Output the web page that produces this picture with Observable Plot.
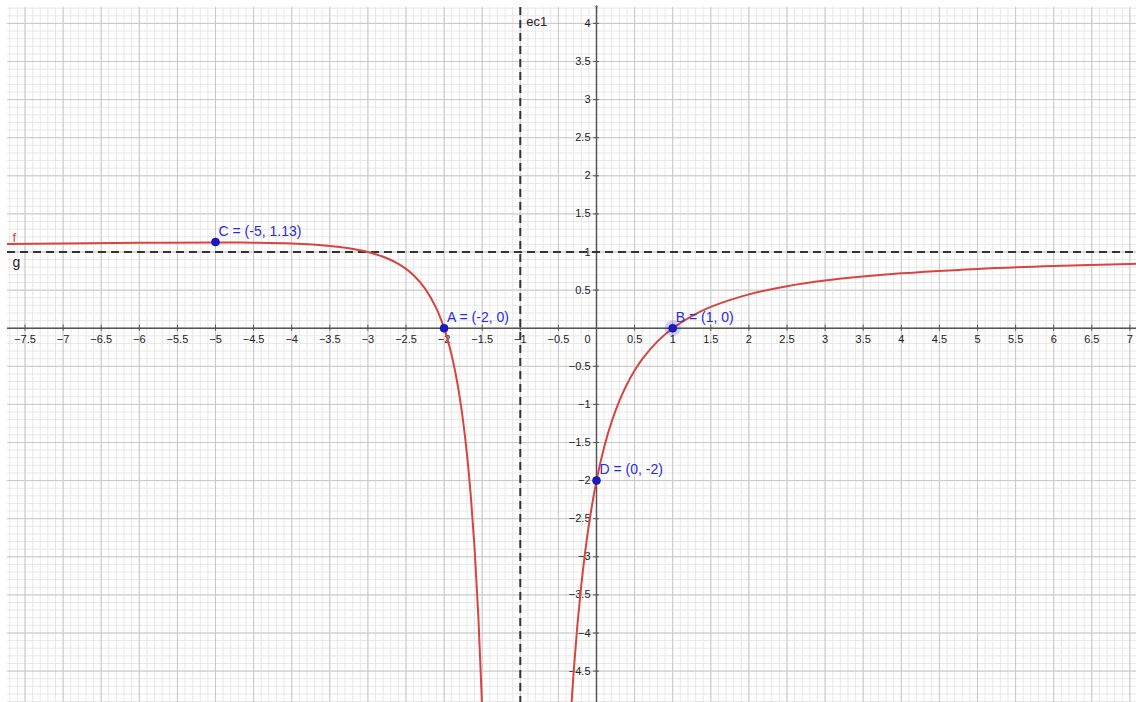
<!DOCTYPE html>
<html>
<head>
<meta charset="utf-8">
<script src="https://cdn.jsdelivr.net/npm/d3@7"></script>
<script src="https://cdn.jsdelivr.net/npm/@observablehq/plot@0.6"></script>
<style>
  html, body { margin: 0; padding: 0; background: #fff; }
  #chart svg { display: block; }
</style>
</head>
<body>
<div id="chart"></div>
<script>
// Tick labels
const xTicks = [-7.5,-7,-6.5,-6,-5.5,-5,-4.5,-4,-3.5,-3,-2.5,-2,-1.5,-1,-0.5,0.5,1,1.5,2,2.5,3,3.5,4,4.5,5,5.5,6,6.5,7];
const yTicks = [-4.5,-4,-3.5,-3,-2.5,-2,-1.5,-1,-0.5,0.5,1,1.5,2,2.5,3,3.5,4];

// Curve f, left branch
const leftX = [-8,-7,-6,-5,-4.5,-4,-3.5,-3.25,-3,-2.75,-2.6,-2.5,-2.4,-2.25,-2.1,-2,-1.95,-1.9,-1.85,-1.8,-1.75,-1.7,-1.65,-1.6,-1.55,-1.5,-1.45];
const leftY = [1.102,1.111,1.12,1.125,1.122,1.111,1.08,1.049,1,0.918,0.844,0.778,0.694,0.52,0.256,0,-0.163,-0.358,-0.592,-0.875,-1.222,-1.653,-2.195,-2.889,-3.793,-5,-6.654];
// Curve f, right branch
const rightX = [-0.35,-0.3,-0.25,-0.2,-0.15,-0.1,0,0.1,0.2,0.3,0.4,0.5,0.6,0.8,1,1.25,1.5,2,2.5,3,4,5,6,7,7.5];
const rightY = [-5.272,-4.51,-3.889,-3.375,-2.945,-2.58,-2,-1.562,-1.222,-0.953,-0.735,-0.556,-0.406,-0.173,0,0.16,0.28,0.444,0.551,0.625,0.72,0.778,0.816,0.844,0.855];

// Named points
const ptNames = ["C","A","B","D"];
const ptX = [-5,-2,1,0];
const ptY = [1.13,0,0,-2];

// Asymptotes
const vAsym = [-1];   // ec1
const hAsym = [1];    // g

const W = 1136, H = 702, M = 7;
const unit = 76.2, ox = 596, oy = 327.7;
const xDomain = [(M-ox)/unit, (W-ox)/unit];
const yDomain = [-(H-oy)/unit, (oy-M)/unit];

const fmt = v => (v < 0 ? "\u2212" : "") + Math.abs(v);

const minorX = d3.range(Math.ceil(xDomain[0]*10), Math.floor(xDomain[1]*10)+1).map(v => v/10);
const minorY = d3.range(Math.ceil(yDomain[0]*10), Math.floor(yDomain[1]*10)+1).map(v => v/10);
const majorX = minorX.filter(v => Math.abs(Math.round(v*2) - v*2) < 1e-9);
const majorY = minorY.filter(v => Math.abs(Math.round(v*2) - v*2) < 1e-9);

const left = leftX.map((x,i) => ({x, y: leftY[i]}));
const right = rightX.map((x,i) => ({x, y: rightY[i]}));
const pts = ptNames.map((n,i) => ({n, x: ptX[i], y: ptY[i], label: `${n} = (${ptX[i]}, ${ptY[i]})`}));

const blue = "#1a1acc";
const red = "#d64541";
const axisCol = "#555";
const tk = 3/unit;

const chart = Plot.plot({
  width: W, height: H,
  marginTop: M, marginRight: 0, marginBottom: 0, marginLeft: M,
  x: {type: "linear", domain: xDomain, axis: null},
  y: {type: "linear", domain: yDomain, axis: null},
  style: {background: "#fff", fontFamily: "Liberation Sans, Arial, sans-serif"},
  marks: [
    Plot.ruleX(minorX, {x: d => d, stroke: "#e8e8e8", strokeWidth: 1}),
    Plot.ruleY(minorY, {y: d => d, stroke: "#e8e8e8", strokeWidth: 1}),
    Plot.ruleX(majorX, {x: d => d, stroke: "#c8c8c8", strokeWidth: 1}),
    Plot.ruleY(majorY, {y: d => d, stroke: "#c8c8c8", strokeWidth: 1}),
    // axes
    Plot.ruleY([0], {y: d => d, stroke: axisCol, strokeWidth: 1.5}),
    Plot.ruleX([0], {x: d => d, stroke: axisCol, strokeWidth: 1.5}),
    Plot.ruleX(xTicks, {x: d => d, y1: -tk, y2: tk, stroke: axisCol, strokeWidth: 1}),
    Plot.ruleY(yTicks, {y: d => d, x1: -tk, x2: tk, stroke: axisCol, strokeWidth: 1}),
    Plot.text(xTicks, {x: d => d, y: () => 0, text: d => fmt(d), dy: 11, fontSize: 11, fill: "#222"}),
    Plot.text(yTicks, {x: () => 0, y: d => d, text: d => fmt(d), dx: -6, textAnchor: "end", fontSize: 11, fill: "#222"}),
    Plot.text([0], {x: d => d, y: d => d, text: () => "0", dx: -9, dy: 11, fontSize: 11, fill: "#222"}),
    // axis arrow
    Plot.text([0], {x: d => d, y: () => yDomain[1], text: () => "\u2191", dy: 1, fontSize: 14, fill: axisCol}),
    // asymptotes
    Plot.ruleX(vAsym, {x: d => d, stroke: "#333", strokeWidth: 2, strokeDasharray: "8,5"}),
    Plot.ruleY(hAsym, {y: d => d, stroke: "#333", strokeWidth: 2, strokeDasharray: "8,5"}),
    Plot.text(vAsym, {x: d => d, y: () => yDomain[1], text: () => "ec1", dx: 6, dy: 14, textAnchor: "start", fontSize: 13, fill: "#222"}),
    Plot.text(hAsym, {x: () => xDomain[0], y: d => d, text: () => "g", dx: 5, dy: 11, textAnchor: "start", fontSize: 14, fill: "#222"}),
    // function f
    Plot.line(left, {x: "x", y: "y", stroke: red, strokeWidth: 2, curve: "catmull-rom", clip: true}),
    Plot.line(right, {x: "x", y: "y", stroke: red, strokeWidth: 2, curve: "catmull-rom", clip: true}),
    Plot.text([leftY[0]], {x: () => xDomain[0], y: d => d, text: () => "f", dx: 5, dy: -6, textAnchor: "start", fontSize: 13, fill: red}),
    // points
    Plot.dot(pts.filter(p => p.n === "B"), {x: "x", y: "y", r: 8, fill: blue, fillOpacity: 0.2, stroke: "none"}),
    Plot.dot(pts, {x: "x", y: "y", r: 4, fill: blue, stroke: "#000066", strokeWidth: 0.5}),
    Plot.text(pts, {x: "x", y: "y", text: "label", dx: 3, dy: -11, textAnchor: "start", fontSize: 14, fill: "#2a2ae0"})
  ]
});
document.getElementById("chart").appendChild(chart);
</script>
</body>
</html>
